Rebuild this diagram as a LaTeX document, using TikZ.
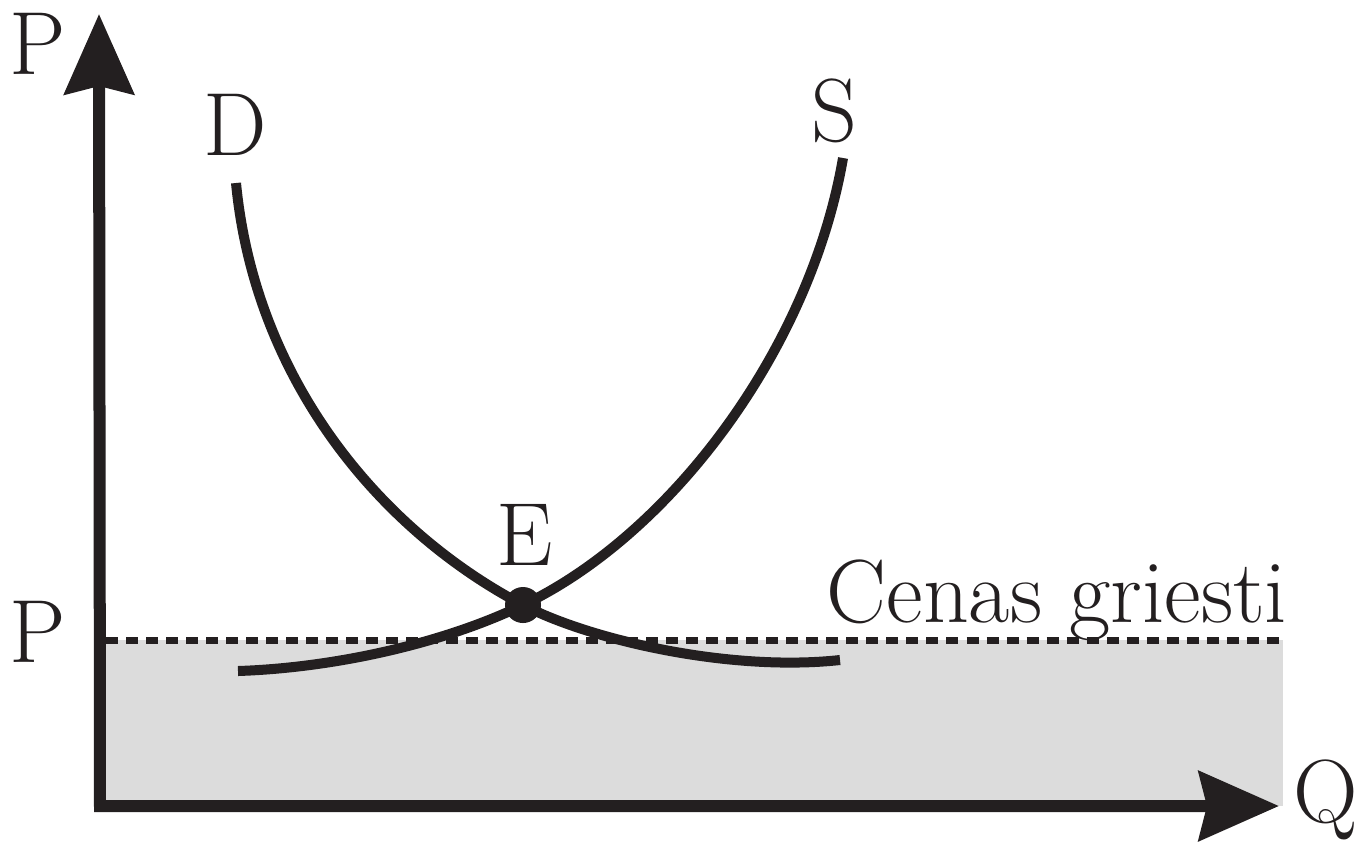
\documentclass[tikz,border=0pt]{standalone}
\usepackage{xcolor}
\usepackage{tikz}
\usetikzlibrary{arrows.meta}

\definecolor{ink}{HTML}{231F20}
\definecolor{floorgray}{HTML}{DCDCDC}

\begin{document}
\begin{tikzpicture}[x=0.01cm, y=-0.01cm,
    every node/.style={font=\fontsize{25.5}{30}\selectfont, text=ink, inner sep=0pt},
    axisline/.style={draw=ink, line width=0.12cm, line join=miter,
      {Stealth[length=0.8cm, width=0.69cm, inset=0.08cm]}-{Stealth[length=0.8cm, width=0.69cm, inset=0.08cm]}},
    curveline/.style={draw=ink, line width=0.1cm},
    ceilingline/.style={draw=ink, line width=0.07cm, dash pattern=on 0.12cm off 0.08cm}]
  \useasboundingbox (0,0) rectangle (1371,851);

  % Axes corner and tips
  \coordinate (O) at (100,806);
  \coordinate (ptip) at (99,14);
  \coordinate (qtip) at (1279,806);
  \coordinate (E) at (523,605);

  % Area below the price ceiling
  \fill[floorgray] (100,640) rectangle (1283,806);
  \draw[ceilingline] (106,640) -- (1283,640);

  % Demand curve
  \draw[curveline] (236,183) .. controls (255,380) and (380,530) .. (E)
    .. controls (590,640) and (730,672) .. (840,660);
  % Supply curve
  \draw[curveline] (238,671) .. controls (330,668) and (440,645) .. (E)
    .. controls (670,535) and (810,350) .. (843,158);

  % Equilibrium point
  \fill[ink] (E) circle (0.18cm);

  % Axes
  \draw[axisline] (ptip) -- (O) -- (qtip);

  % Labels
  \node[anchor=base] (ptop) at (38,74) {P};
  \node[anchor=base] (qlbl) at (1326,822) {Q};
  \node[anchor=base] (pceil) at (38,662) {P};
  \node[anchor=base] (dlbl) at (235,155) {D};
  \node[anchor=base] (slbl) at (834,141) {S};
  \node[anchor=base] (elbl) at (525,565) {E};
  \node[anchor=base west] (ceil) at (826,622) {Cenas griesti};
\end{tikzpicture}
\end{document}
